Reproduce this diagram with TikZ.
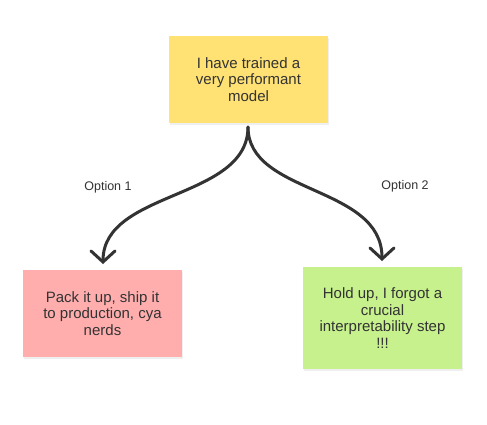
\documentclass[tikz,border=0pt]{standalone}
\usepackage{fontspec}
\setmainfont{Liberation Sans}
\usetikzlibrary{arrows.meta,shadows}
\definecolor{noteyellow}{HTML}{FFE273}
\definecolor{notepink}{HTML}{FFADAD}
\definecolor{notegreen}{HTML}{C6F18C}
\definecolor{ink}{HTML}{333333}
\tikzset{
  note/.style={rectangle, draw=none, minimum width=159pt, inner sep=0pt, align=center,
    text=ink, font=\fontsize{15}{16.5}\selectfont,
    drop shadow={opacity=0.12, shadow xshift=1pt, shadow yshift=-1.5pt}},
  flow/.style={draw=ink, line width=3pt, line cap=round,
    -{Straight Barb[length=11pt, width=24pt, line cap=round]}},
  optlabel/.style={text=ink, font=\fontsize{12.5}{14}\selectfont}
}
\begin{document}
\begin{tikzpicture}[x=1pt,y=-1pt]
\useasboundingbox (0,0) rectangle (487,424);
\fill[white] (0,0) rectangle (487,424);
\node[note, fill=noteyellow, minimum height=87pt] (top) at (248.5,79.5) {I have trained a\\very performant\\model};
\node[note, fill=notepink, minimum height=87pt] (left) at (102.5,313.5) {Pack it up, ship it\\to production, cya\\nerds};
\node[note, fill=notegreen, minimum height=102pt] (right) at (382.5,318) {Hold up, I forgot a\\crucial\\interpretability step\\!!!};
\coordinate (start) at (248,127);
\coordinate (lend) at (103,264);
\coordinate (rend) at (382,261);
\draw[flow] (start) .. controls (248,200) and (103,190) .. (lend);
\draw[flow] (start) .. controls (248,195) and (382,185) .. (rend);
\node[optlabel] (o1) at (108,187) {Option 1};
\node[optlabel] (o2) at (405,186) {Option 2};
\end{tikzpicture}
\end{document}
